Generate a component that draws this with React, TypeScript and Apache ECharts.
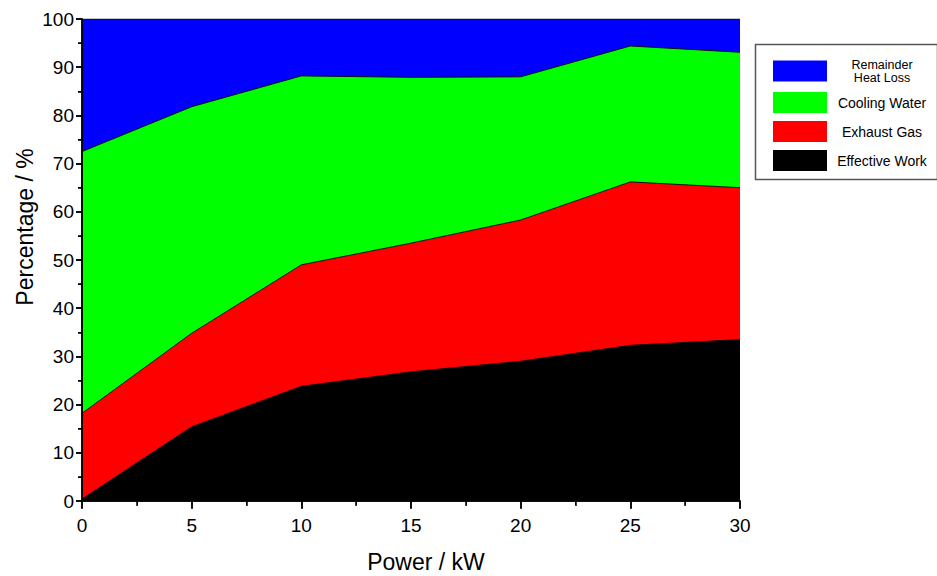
import React, { useEffect, useRef } from "react";
import * as echarts from "echarts";

const powerKW = [0, 5, 10, 15, 20, 25, 30];
const effectiveWork = [0.4, 15.4, 23.8, 26.8, 29.0, 32.3, 33.5];
const exhaustGas = [17.8, 19.4, 25.2, 26.7, 29.3, 33.9, 31.5];
const coolingWater = [54.3, 47.0, 39.2, 34.4, 29.7, 28.2, 28.1];
const remainderHeatLoss = [27.5, 18.2, 11.8, 12.1, 12.0, 5.6, 6.9];

const seriesNames = ["Effective Work", "Exhaust Gas", "Cooling Water", "Remainder Heat Loss"];
const seriesColors = ["#000000", "#ff0000", "#00ff00", "#0000ff"];
const seriesValues = [effectiveWork, exhaustGas, coolingWater, remainderHeatLoss];
const legendOrder = ["Remainder Heat Loss", "Cooling Water", "Exhaust Gas", "Effective Work"];
const xTitle = "Power / kW";
const yTitle = "Percentage / %";

const FONT = "'Liberation Sans', Arial, sans-serif";

export default function App() {
  const ref = useRef<HTMLDivElement>(null);
  useEffect(() => {
    if (!ref.current) return;
    const chart = echarts.init(ref.current, undefined, { renderer: "svg" });
    const axisLine = { show: true, lineStyle: { color: "#000", width: 1.5 } };

    const cumulative: number[][] = [];
    seriesValues.forEach((vals, i) => {
      cumulative.push(vals.map((v, j) => (i === 0 ? v : cumulative[i - 1][j] + v)));
    });

    const order = [3, 2, 1, 0];
    const series = order.map((i) => ({
      name: seriesNames[i],
      type: "line",
      symbol: "none",
      xAxisIndex: 0,
      yAxisIndex: 0,
      color: seriesColors[i],
      lineStyle: { color: "#111", width: 1 },
      areaStyle: { color: seriesColors[i], opacity: 1, origin: "start" },
      data: powerKW.map((x, j) => [x, Math.round(cumulative[i][j] * 100) / 100]),
    }));

    const option: any = {
      animation: false,
      backgroundColor: "#fff",
      grid: { left: 82, top: 19, right: 197, bottom: 75 },
      legend: {
        orient: "vertical",
        left: 768,
        top: 53,
        data: legendOrder,
        icon: "rect",
        itemWidth: 54,
        itemHeight: 21,
        itemGap: 8,
        selectedMode: false,
        textStyle: {
          fontFamily: FONT,
          fontSize: 14,
          color: "#000",
          rich: {
            c: { width: 100, align: "center", fontSize: 14, fontFamily: FONT, lineHeight: 15, color: "#000" },
            s: { width: 100, align: "center", fontSize: 12.5, fontFamily: FONT, lineHeight: 13, color: "#000" },
          },
        },
        formatter: (name: string) =>
          name === "Remainder Heat Loss" ? "{s|Remainder}\n{s|Heat Loss}" : "{c|" + name + "}",
      },
      graphic: [
        {
          type: "rect",
          left: 753,
          top: 42,
          shape: { width: 182, height: 135 },
          style: { fill: "none", stroke: "#555", lineWidth: 1.5 },
          z: 10,
        },
        {
          type: "text",
          x: 426,
          y: 562,
          style: {
            text: xTitle,
            fontFamily: FONT,
            fontSize: 23,
            fill: "#000",
            align: "center",
            verticalAlign: "middle",
          },
        },
        {
          type: "text",
          x: 25,
          y: 227,
          rotation: Math.PI / 2,
          style: {
            text: yTitle,
            fontFamily: FONT,
            fontSize: 23,
            fill: "#000",
            align: "center",
            verticalAlign: "middle",
          },
        },
      ],
      xAxis: [
        {
          type: "value",
          min: 0,
          max: 30,
          interval: 5,
          axisLine,
          axisTick: { show: true, length: 8, lineStyle: { color: "#000", width: 1.5 } },
          minorTick: { show: true, splitNumber: 2, length: 5, lineStyle: { color: "#000", width: 1.5 } },
          axisLabel: { fontFamily: FONT, fontSize: 19, color: "#000", margin: 15 },
          splitLine: { show: false },
          z: 5,
        },
        {
          type: "value",
          position: "top",
          min: 0,
          max: 30,
          interval: 5,
          axisLine,
          axisTick: { show: true, inside: true, length: 7, lineStyle: { color: "#000", width: 1.5 } },
          minorTick: { show: true, splitNumber: 2, length: 4, lineStyle: { color: "#000" } },
          axisLabel: { show: false },
          splitLine: { show: false },
          z: 5,
        },
      ],
      yAxis: [
        {
          type: "value",
          min: 0,
          max: 100,
          interval: 10,
          axisLine,
          axisTick: { show: true, length: 6, lineStyle: { color: "#000", width: 1.5 } },
          minorTick: { show: true, splitNumber: 2, length: 4, lineStyle: { color: "#000", width: 1.5 } },
          axisLabel: { fontFamily: FONT, fontSize: 19, color: "#000", margin: 8 },
          splitLine: { show: false },
          z: 5,
        },
        {
          type: "value",
          position: "right",
          min: 0,
          max: 100,
          interval: 10,
          axisLine,
          axisTick: { show: true, inside: true, length: 6, lineStyle: { color: "#000", width: 1.5 } },
          minorTick: { show: true, splitNumber: 2, length: 4, lineStyle: { color: "#000" } },
          axisLabel: { show: false },
          splitLine: { show: false },
          z: 5,
        },
      ],
      series,
    };
    chart.setOption(option);
    return () => chart.dispose();
  }, []);
  return <div ref={ref} style={{ width: 937, height: 576, position: "absolute", left: 0, top: 0 }} />;
}
